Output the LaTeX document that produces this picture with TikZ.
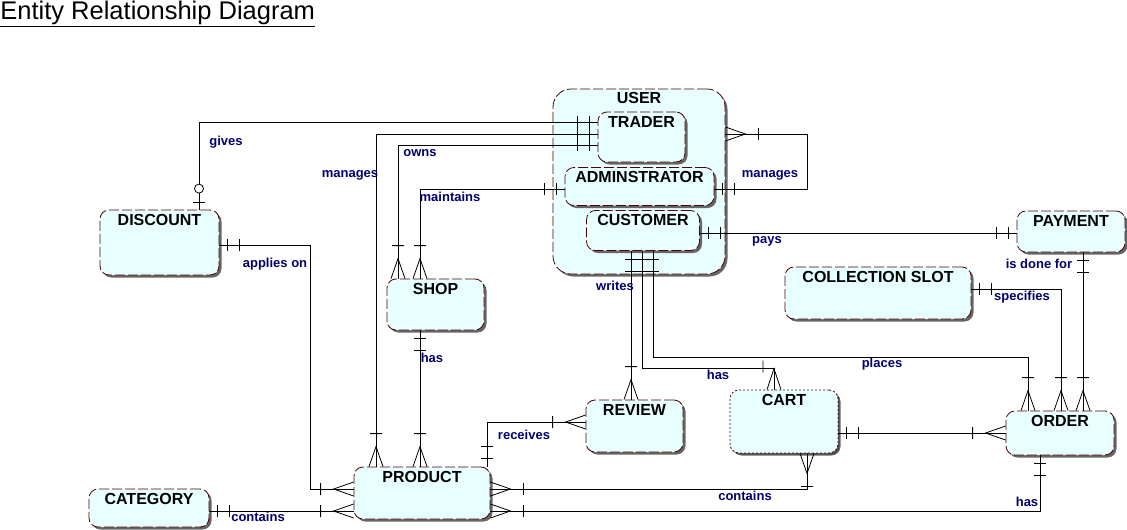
\documentclass[tikz,border=0pt]{standalone}
\usepackage{fontspec}
\setmainfont{Liberation Sans}
\usetikzlibrary{shadows}

\definecolor{erfill}{RGB}{232,255,255}
\definecolor{erborder}{RGB}{80,0,0}
\definecolor{ernavy}{RGB}{0,0,110}

% ER line ends
\pgfdeclarearrow{
  name = erone,
  setup code = {
    \pgfarrowssettipend{0pt}
    \pgfarrowssetlineend{0pt}
    \pgfarrowssetbackend{-20pt}
    \pgfarrowshullpoint{0pt}{6pt}
    \pgfarrowshullpoint{-20pt}{-6pt}
  },
  drawing code = {
    \pgfpathmoveto{\pgfqpoint{-8pt}{6pt}}\pgfpathlineto{\pgfqpoint{-8pt}{-6pt}}
    \pgfpathmoveto{\pgfqpoint{-20pt}{6pt}}\pgfpathlineto{\pgfqpoint{-20pt}{-6pt}}
    \pgfusepathqstroke
  }
}
\pgfdeclarearrow{
  name = erzero,
  setup code = {
    \pgfarrowssettipend{0pt}
    \pgfarrowssetlineend{0pt}
    \pgfarrowssetbackend{-26pt}
    \pgfarrowshullpoint{0pt}{6pt}
    \pgfarrowshullpoint{-26pt}{-6pt}
  },
  drawing code = {
    \pgfpathmoveto{\pgfqpoint{-7pt}{6pt}}\pgfpathlineto{\pgfqpoint{-7pt}{-6pt}}
    \pgfusepathqstroke
    \pgfpathcircle{\pgfqpoint{-21pt}{0pt}}{4.5pt}
    \pgfsetfillcolor{white}
    \pgfusepathqfillstroke
  }
}
\pgfdeclarearrow{
  name = ermany,
  setup code = {
    \pgfarrowssettipend{0pt}
    \pgfarrowssetlineend{0pt}
    \pgfarrowssetbackend{-33pt}
    \pgfarrowshullpoint{0pt}{7pt}
    \pgfarrowshullpoint{-33pt}{-7pt}
  },
  drawing code = {
    \pgfpathmoveto{\pgfqpoint{0pt}{7pt}}
    \pgfpathlineto{\pgfqpoint{-20pt}{0pt}}
    \pgfpathlineto{\pgfqpoint{0pt}{-7pt}}
    \pgfpathmoveto{\pgfqpoint{-33pt}{6pt}}\pgfpathlineto{\pgfqpoint{-33pt}{-6pt}}
    \pgfusepathqstroke
  }
}
% crow's foot with its bar on the turn before it
\pgfdeclarearrow{
  name = ermanyturn,
  setup code = {
    \pgfarrowssettipend{0pt}
    \pgfarrowssetlineend{0pt}
    \pgfarrowssetbackend{-29pt}
    \pgfarrowshullpoint{0pt}{7pt}
    \pgfarrowshullpoint{-29pt}{-11pt}
  },
  drawing code = {
    \pgfpathmoveto{\pgfqpoint{0pt}{7pt}}
    \pgfpathlineto{\pgfqpoint{-21pt}{0pt}}
    \pgfpathlineto{\pgfqpoint{0pt}{-7pt}}
    \pgfpathmoveto{\pgfqpoint{-29pt}{-11pt}}\pgfpathlineto{\pgfqpoint{-17pt}{-11pt}}
    \pgfusepathqstroke
  }
}

\tikzset{
  entity/.style={draw=erborder, fill=erfill, dash pattern=on 10pt off 3pt,
    rounded corners=9pt, inner sep=0pt,
    drop shadow={shadow xshift=2.5pt, shadow yshift=-2.5pt, fill=black!60, opacity=1}},
  ename/.style={anchor=north, yshift=-2pt, inner sep=2pt, text=black,
    font=\fontsize{16}{19}\selectfont\bfseries},
  rel/.style={inner sep=0pt, text=ernavy, font=\fontsize{13}{15}\selectfont\bfseries},
}

\begin{document}
\begin{tikzpicture}[x=1pt,y=-1pt,line width=0.8pt]
\useasboundingbox (0,0) rectangle (1127,530);

\node[anchor=north west, inner sep=0pt, font=\fontsize{25.5}{30}\selectfont] (title) at (0,1)
  {\underline{Entity Relationship Diagram}};

% entities
\node[entity, rounded corners=18pt, minimum width=172, minimum height=185,
  label={[ename, yshift=1pt]north:USER}] (user) at (639,181.5) {};
\node[entity, minimum width=87, minimum height=50, label={[ename]north:TRADER}] (trader) at (641.5,137) {};
\node[entity, minimum width=149, minimum height=38, label={[ename]north:ADMINSTRATOR}] (admin) at (639.5,186.5) {};
\node[entity, minimum width=113, minimum height=40, label={[ename]north:CUSTOMER}] (customer) at (643,230.5) {};
\node[entity, minimum width=119, minimum height=65, label={[ename]north:DISCOUNT}] (discount) at (159.5,242.5) {};
\node[entity, minimum width=97, minimum height=51, label={[ename]north:SHOP}] (shop) at (435.5,304.5) {};
\node[entity, minimum width=108, minimum height=41, label={[ename]north:PAYMENT}] (payment) at (1071,231.5) {};
\node[entity, minimum width=186, minimum height=52, label={[ename]north:COLLECTION SLOT}] (collection) at (878,293) {};
\node[entity, minimum width=97, minimum height=52, label={[ename]north:REVIEW}] (review) at (634.5,426) {};
\node[entity, dash pattern=on 2pt off 2pt, minimum width=108, minimum height=63,
  drop shadow={shadow xshift=1.5pt, shadow yshift=-1.5pt, fill=black!70, opacity=1},
  label={[ename]north:CART}] (cart) at (784,421.5) {};
\node[entity, minimum width=108, minimum height=44, label={[ename]north:ORDER}] (order) at (1060,433) {};
\node[entity, minimum width=136, minimum height=52, label={[ename]north:PRODUCT}] (product) at (422,493) {};
\node[entity, minimum width=120, minimum height=38, label={[ename]north:CATEGORY}] (category) at (149,508) {};

% relationships
\draw[erzero-erone] (discount.north -| 199,0) |- (trader.west |- 0,122);
\draw[erone-ermany] (trader.west |- 0,134) -| (product.north -| 376,0);
\draw[erone-ermany] (trader.west |- 0,145) -| (shop.north -| 398,0);
\draw[erone-ermany] (admin.west |- 0,189) -| (shop.north -| 420,0);
\draw[erone-ermany] (admin.east |- 0,189) -- ++(93,0) |- (user.east |- 0,134);
\draw[erone-erone] (customer.east |- 0,233) -- (payment.west |- 0,233);
\draw[erone-ermany] (payment.south -| 1083,0) -- (order.north -| 1083,0);
\draw[erone-ermany] (collection.east |- 0,289) -| (order.north -| 1061,0);
\draw[erone-ermany] (customer.south -| 653,0) -- ++(0,106) -| (order.north -| 1028,0);
\draw[erone-ermanyturn] (customer.south -| 642,0) -- ++(0,117) -| (cart.north -| 774,0);
\draw[erone-ermany] (customer.south -| 631,0) -- (review.north -| 631,0);
\draw[erone-ermany] (shop.south -| 420,0) -- (product.north -| 420,0);
\draw[erone-ermany] (product.north -| 487,0) |- (review.west |- 0,422);
\draw[ermany-ermany] (product.east |- 0,489) -| (cart.south -| 807,0);
\draw[ermany-erone] (product.east |- 0,511) -| (order.south -| 1040,0);
\draw[erone-ermany] (cart.east |- 0,433) -- (order.west |- 0,433);
\draw[erone-ermany] (discount.east |- 0,245) -- ++(91,0) |- (product.west |- 0,489);
\draw[erone-ermany] (category.east |- 0,511) -- (product.west |- 0,511);

% relationship names
\node[rel] (r-gives) at (226,142) {gives};
\node[rel] (r-tmanages) at (350,175) {manages};
\node[rel] (r-owns) at (420,153) {owns};
\node[rel] (r-maintains) at (450,197) {maintains};
\node[rel] (r-amanages) at (770,175) {manages};
\node[rel] (r-pays) at (767,241) {pays};
\node[rel] (r-applies) at (275,264) {applies on};
\node[rel] (r-shophas) at (432,358) {has};
\node[rel] (r-writes) at (615,286) {writes};
\node[rel] (r-isdone) at (1039,264) {is done for};
\node[rel] (r-specifies) at (1022,297) {specifies};
\node[rel] (r-places) at (882,364) {places};
\node[rel] (r-carthas) at (718,375) {has};
\node[rel] (r-receives) at (524,435) {receives};
\node[rel] (r-cartcontains) at (745,496) {contains};
\node[rel] (r-orderhas) at (1027,502) {has};
\node[rel] (r-catcontains) at (258,517) {contains};

\end{tikzpicture}
\end{document}
